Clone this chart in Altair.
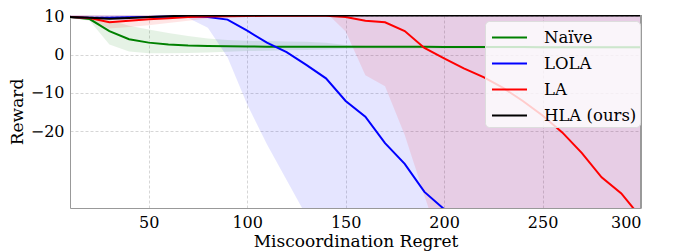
import altair as alt
import pandas as pd

xs = [10, 20, 30, 40, 50, 60, 70, 80, 90, 100, 110, 120, 130, 140, 150,
      160, 170, 180, 190, 200, 210, 220, 230, 240, 250, 260, 270, 280, 290, 300]

methods = ["Naïve", "LOLA", "LA", "HLA (ours)"]
colors = ["#008000", "#0000ff", "#ff0000", "#000000"]
band_methods = ["Naïve", "LOLA", "LA"]
band_colors = ["#008000", "#0000ff", "#ff0000"]

naive_mean = [9.75, 9.25, 6.1, 4.0, 3.1, 2.6, 2.35, 2.25, 2.15, 2.1, 2.05, 2.0, 2.0, 2.0, 2.0,
              2.0, 2.0, 2.0, 2.0, 1.95, 1.95, 1.95, 1.95, 1.95, 1.9, 1.9, 1.9, 1.9, 1.9, 1.9]
naive_lo = [9.5, 8.8, 2.6, 0.8, 0.3, 0.3, 0.4, 0.5, 0.7, 0.9, 1.0, 1.1, 1.2, 1.3, 1.5,
            1.6, 1.6, 1.6, 1.6, 1.6, 1.6, 1.6, 1.6, 1.6, 1.6, 1.6, 1.6, 1.6, 1.6, 1.6]
naive_hi = [10.0, 9.8, 9.0, 7.5, 6.5, 5.6, 4.8, 4.2, 3.8, 3.6, 3.5, 3.4, 3.3, 3.1, 2.5,
            2.3, 2.3, 2.3, 2.3, 2.3, 2.3, 2.3, 2.3, 2.3, 2.3, 2.3, 2.3, 2.3, 2.3, 2.3]

lola_mean = [9.75, 9.6, 9.6, 9.7, 9.8, 9.9, 9.95, 9.8, 9.1, 6.2, 3.1, 0.6, -2.7, -6.2, -12.1,
             -16.2, -23.1, -28.5, -35.8, -40.3, -45.0, -50.0, -55.0, -60.0, -65.0, -70.0, -75.0, -80.0, -85.0, -90.0]
lola_lo = [9.5, 9.2, 9.0, 9.0, 9.2, 9.4, 9.5, 7.0, -0.7, -13.0, -23.4, -32.7, -42.0, -50.0, -60.0,
           -70.0, -80.0, -90.0, -100.0, -110.0, -120.0, -130.0, -140.0, -150.0, -160.0, -170.0, -180.0, -190.0, -200.0, -210.0]
lola_hi = [10.5, 11.0, 11.5, 11.5, 11.5, 11.5, 12.0, 20.0, 25.0, 25.0, 25.0, 25.0, 25.0, 25.0, 25.0,
           25.0, 25.0, 25.0, 25.0, 25.0, 25.0, 25.0, 25.0, 25.0, 25.0, 25.0, 25.0, 25.0, 25.0, 25.0]

la_mean = [9.75, 9.5, 8.4, 8.8, 9.2, 9.45, 9.75, 9.9, 10.0, 10.05, 10.1, 10.1, 10.1, 10.1, 9.75,
           8.8, 8.4, 6.1, 1.7, -1.0, -3.6, -5.9, -8.7, -12.1, -15.9, -20.3, -25.7, -32.0, -36.2, -42.5]
la_lo = [9.6, 9.0, 6.8, 7.2, 7.6, 8.2, 8.8, 9.4, 9.7, 9.8, 9.8, 9.8, 9.8, 11.0, 6.0,
         -5.4, -8.3, -21.0, -36.8, -52.0, -60.0, -70.0, -80.0, -90.0, -100.0, -110.0, -120.0, -130.0, -140.0, -150.0]
la_hi = [10.6, 11.5, 12.0, 12.5, 12.5, 12.2, 11.6, 11.0, 10.6, 10.4, 10.4, 10.4, 10.4, 20.0, 25.0,
         25.0, 25.0, 25.0, 25.0, 25.0, 25.0, 25.0, 25.0, 25.0, 25.0, 25.0, 25.0, 25.0, 25.0, 25.0]

hla_mean = [9.8, 9.6, 9.3, 9.5, 9.8, 10.0, 10.15, 10.15, 10.15, 10.15, 10.15, 10.15, 10.15, 10.15, 10.15,
            10.15, 10.15, 10.15, 10.15, 10.15, 10.15, 10.15, 10.15, 10.15, 10.15, 10.15, 10.15, 10.15, 10.15, 10.15]

x_ticks = [50, 100, 150, 200, 250, 300]
y_ticks = [-20, -10, 0, 10]

rows = []
series = [
    ("Naïve", naive_mean, naive_lo, naive_hi),
    ("LOLA", lola_mean, lola_lo, lola_hi),
    ("LA", la_mean, la_lo, la_hi),
    ("HLA (ours)", hla_mean, None, None),
]
for name, m, lo, hi in series:
    for i, x in enumerate(xs):
        rows.append({
            "method": name, "band": name, "x": x, "mean": m[i],
            "lo": lo[i] if lo else None, "hi": hi[i] if hi else None,
        })
df = pd.DataFrame(rows)

FONT = "DejaVu Serif"
W, H = 571, 193

xscale = alt.Scale(domain=[10, 300], nice=False, zero=False)
yscale = alt.Scale(domain=[-40, 10.3], nice=False, zero=False)

x_axis = alt.Axis(values=x_ticks, title="Miscoordination Regret", grid=True,
                  ticks=False, labelPadding=6, titlePadding=3)
y_axis = alt.Axis(values=y_ticks, title="Reward", grid=True,
                  ticks=False, labelPadding=6, titlePadding=4)

base = alt.Chart(df)

bands = base.transform_filter("datum.lo != null").mark_area(
    opacity=0.1, clip=True
).encode(
    x=alt.X("x:Q", scale=xscale, axis=x_axis),
    y=alt.Y("lo:Q", scale=yscale, axis=y_axis),
    y2="hi:Q",
    fill=alt.Fill("band:N", scale=alt.Scale(domain=band_methods, range=band_colors), legend=None),
    detail="band:N",
)

lines = base.mark_line(strokeWidth=2, clip=True).encode(
    x=alt.X("x:Q", scale=xscale),
    y=alt.Y("mean:Q", scale=yscale),
    color=alt.Color(
        "method:N",
        scale=alt.Scale(domain=methods, range=colors),
        sort=methods,
        legend=alt.Legend(
            title=None, orient="none", legendX=415, legendY=6,
            symbolType="M-1,0H1.8", symbolSize=625, symbolStrokeWidth=2,
            symbolOffset=3,
            labelFont=FONT, labelFontSize=16.5, labelColor="#000000",
            labelFontWeight="normal",
            labelOffset=26, rowPadding=4, padding=3,
            fillColor="rgba(255,255,255,0.8)", strokeColor="#dddddd",
            cornerRadius=4,
        ),
    ),
)

right_spine = alt.Chart(df).mark_rule(color="#999999", strokeWidth=1).encode(
    x=alt.value(W), y=alt.value(0), y2=alt.value(H)
)

chart = alt.layer(bands, lines, right_spine).properties(
    width=W, height=H,
    autosize=alt.AutoSizeParams(type="none"),
    padding={"left": 62, "top": 7, "right": 8, "bottom": 44},
).configure(font=FONT).configure_view(stroke=None).configure_axis(
    labelFont=FONT, titleFont=FONT, labelFontSize=16, titleFontSize=17,
    titleFontWeight="normal", labelColor="#000000", titleColor="#000000",
    domainColor="#999999", domainWidth=1,
    gridColor="#cccccc", gridDash=[3, 2], gridWidth=0.8,
).configure_legend(
    labelFont=FONT, labelFontSize=16.5, labelFontWeight="normal",
)

chart.save("out.html", embed_options={"renderer": "svg", "actions": False})
